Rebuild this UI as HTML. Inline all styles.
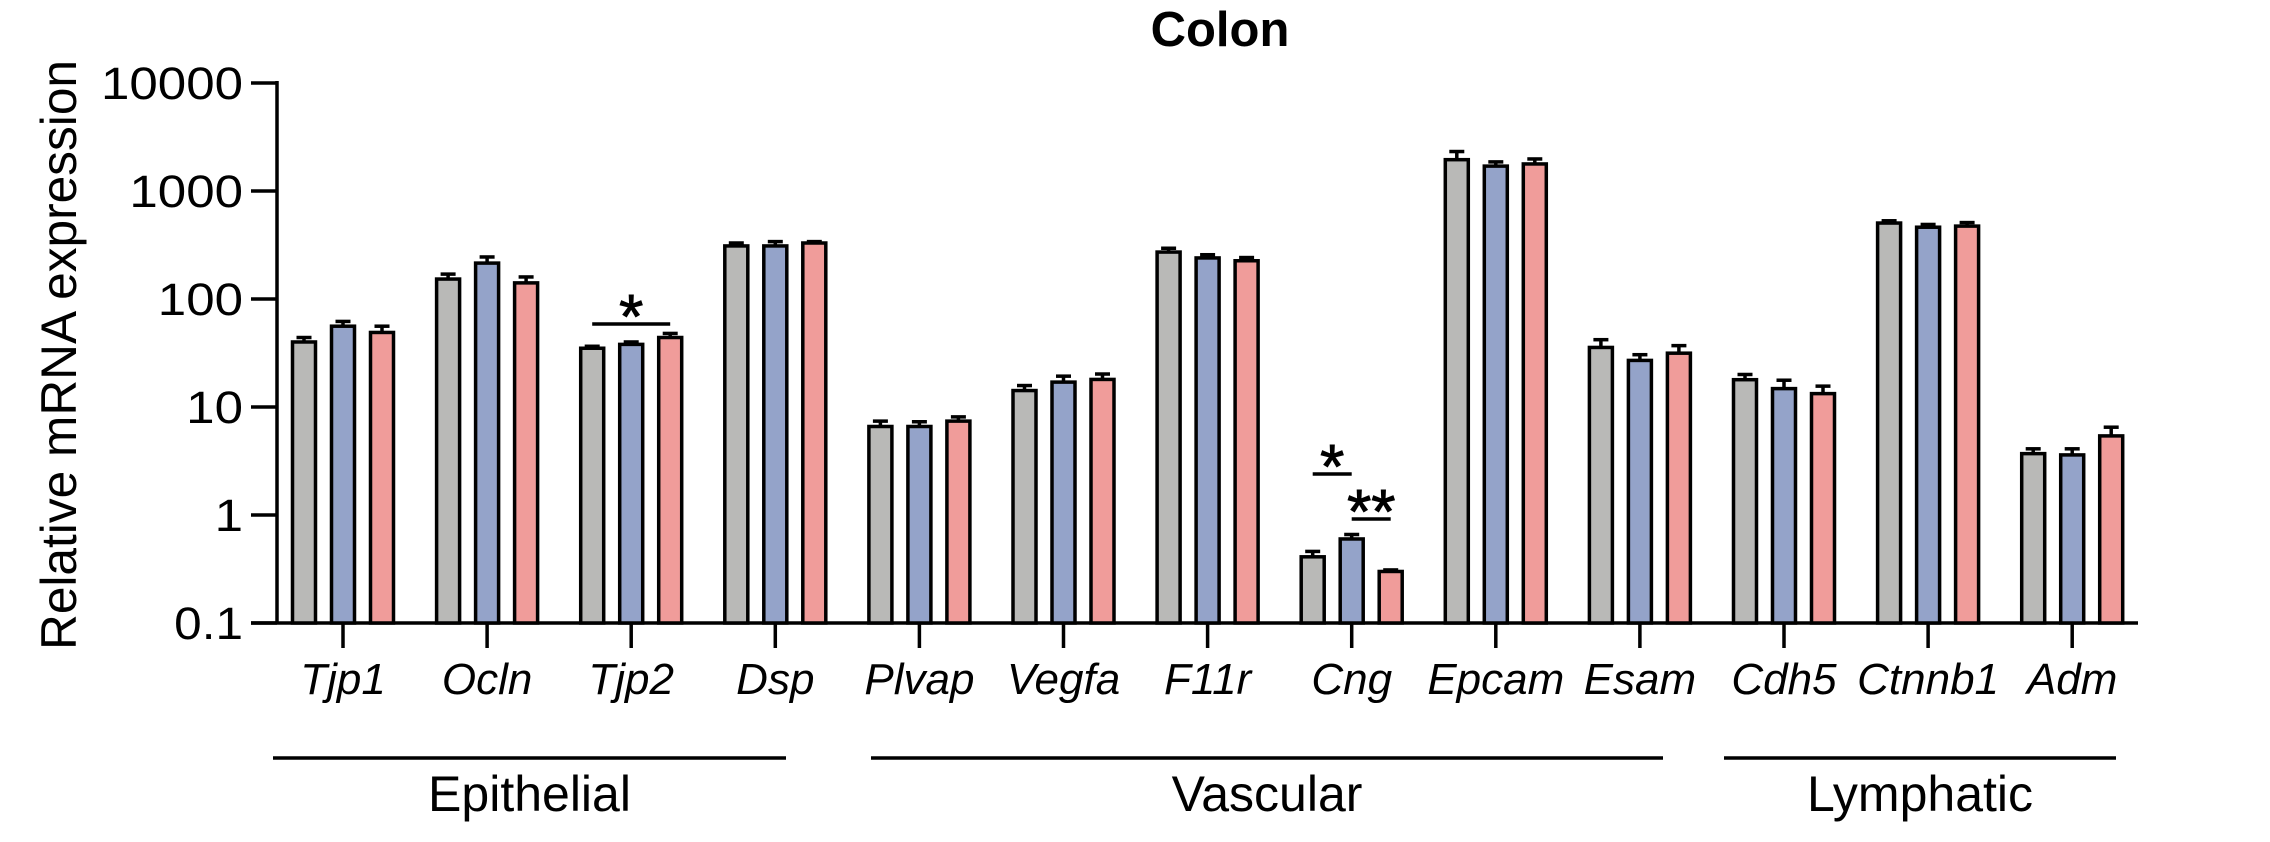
<!DOCTYPE html>
<html><head><meta charset="utf-8"><style>
html,body{margin:0;padding:0;background:#fff;}
svg{display:block;font-family:"Liberation Sans",Arial,sans-serif;}
</style></head><body>
<svg id="chart" width="2270" height="842" viewBox="0 0 2270 842" xmlns="http://www.w3.org/2000/svg">
<text x="1220" y="46" text-anchor="middle" font-size="49" font-weight="bold">Colon</text>
<text transform="translate(76,355) rotate(-90)" text-anchor="middle" font-size="50" textLength="590" lengthAdjust="spacingAndGlyphs">Relative mRNA expression</text>
<g id="plot"></g>
</svg>
<script>
const genes = ["Tjp1","Ocln","Tjp2","Dsp","Plvap","Vegfa","F11r","Cng","Epcam","Esam","Cdh5","Ctnnb1","Adm"];
const seriesGrey = [40,153,35,310,6.6,14.2,272,0.41,1950,35.6,17.9,505,3.7];
const seriesBlue = [56,215,38,310,6.6,17.0,240,0.6,1700,27,14.8,462,3.6];
const seriesPink = [49,141,44,330,7.4,18.0,226,0.30,1780,31.5,13.3,473,5.4];
const errGrey = [44,170,36.5,330,7.4,15.8,295,0.46,2320,42,20,530,4.1];
const errBlue = [62,245,40,340,7.3,19.3,257,0.66,1860,30.5,17.7,490,4.1];
const errPink = [56,160,48,340,8.1,20.2,242,0.31,1980,37,15.6,510,6.5];
const yTicks = [0.1,1,10,100,1000,10000];
const yTickLabels = ["0.1","1","10","100","1000","10000"];
const groupNames = ["Epithelial","Vascular","Lymphatic"];

const NS="http://www.w3.org/2000/svg";
const g=document.getElementById('plot');
const X0=343, STEP=144.1, AX=277, BASE=623, DEC=108;
const yS=v=>BASE-(Math.log10(v)+1)*DEC;
const xS=i=>X0+i*STEP;
function mk(t,a,p){const e=document.createElementNS(NS,t);for(const k in a)e.setAttribute(k,a[k]);(p||g).appendChild(e);return e;}

let e=mk('line',{x1:AX,y1:yS(10000)-2,x2:AX,y2:BASE,stroke:'#000','stroke-width':3.5});


yTicks.forEach((v,i)=>{
  let t=mk('line',{x1:251,x2:AX,y1:yS(v),y2:yS(v),stroke:'#000','stroke-width':3.5});
  
  
  const lab=yTickLabels[i];
  const w=lab.replace('.','').length*28.4+(lab.includes('.')?12:0);
  let l=mk('text',{x:243,y:yS(v)+16,'text-anchor':'end','font-size':45,textLength:w,lengthAdjust:'spacingAndGlyphs'});
  l.textContent=lab;
  
  
});
e=mk('line',{x1:251,x2:2138,y1:BASE,y2:BASE,stroke:'#000','stroke-width':3.5});



const cols=['#b9b9b7','#94a3c9','#f09c9a'];
const vals=[seriesGrey,seriesBlue,seriesPink];
const errs=[errGrey,errBlue,errPink];
const names=['control','group-b','group-c'];
genes.forEach((gn,i)=>{
  const c=xS(i);
  for(let s=0;s<3;s++){
    const cx=c+(s-1)*39, top=yS(vals[s][i]), et=yS(errs[s][i]);
    let er=mk('line',{x1:cx,x2:cx,y1:et,y2:top,stroke:'#000','stroke-width':3.5});
    
    
    let cap=mk('line',{x1:cx-7.5,x2:cx+7.5,y1:et,y2:et,stroke:'#000','stroke-width':3.5});
    
    
    let r=mk('rect',{x:cx-11.5,y:top,width:23,height:BASE-top,fill:cols[s],stroke:'#000','stroke-width':3.5});
    
    
  }
  let t=mk('line',{x1:c,x2:c,y1:BASE,y2:648,stroke:'#000','stroke-width':3.5});
  
  
  let l=mk('text',{x:c,y:694,'text-anchor':'middle','font-size':44,'font-style':'italic'});
  l.textContent=gn;
  
  
});
const lineX=[[273,786],[871,1663],[1724,2116]];
groupNames.forEach((n,i)=>{
  let l=mk('line',{x1:lineX[i][0],x2:lineX[i][1],y1:758,y2:758,stroke:'#000','stroke-width':3.5});
  
  
  let t=mk('text',{x:(lineX[i][0]+lineX[i][1])/2,y:811,'text-anchor':'middle','font-size':50});
  t.textContent=n;
  
  
});
function sig(i1,i2,y,txt){
  const a=xS(i1[0])+(i1[1]-1)*39, b=xS(i2[0])+(i2[1]-1)*39;
  let l=mk('line',{x1:a,x2:b,y1:y,y2:y,stroke:'#000','stroke-width':3.5});
  
  
  let t=mk('text',{x:(a+b)/2,y:y+14,'text-anchor':'middle','font-size':62,'stroke':'#000','stroke-width':1});
  t.textContent=txt;
  
  
}
sig([2,0],[2,2],324,'*');
sig([7,0],[7,1],474,'*');
sig([7,1],[7,2],519,'**');
</script>
</body></html>
